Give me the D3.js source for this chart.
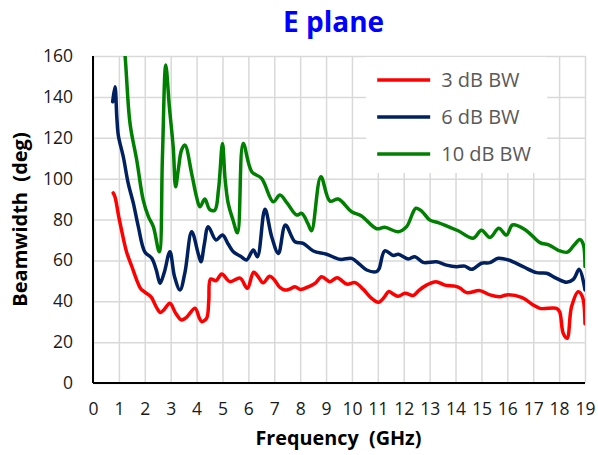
<!DOCTYPE html>
<html>
<head>
<meta charset="utf-8">
<script src="https://cdn.jsdelivr.net/npm/d3@7"></script>
<style>
  body { margin: 0; background: #fff; }
  svg { display: block; }
  text { font-family: "Open Sans", sans-serif; }
</style>
</head>
<body>
<script>
// data
const freq3 = [0.78, 0.85, 1.0, 1.15, 1.3, 1.5, 1.7, 1.85, 2.0, 2.25, 2.45, 2.6, 2.75, 2.97, 3.2, 3.42, 3.6, 3.94, 4.1, 4.2, 4.39, 4.47, 4.54, 4.75, 4.97, 5.29, 5.68, 5.96, 6.2, 6.35, 6.57, 6.82, 7.0, 7.2, 7.41, 7.6, 7.8, 8.0, 8.38, 8.6, 8.83, 9.15, 9.43, 9.8, 10.12, 10.44, 10.76, 11.02, 11.25, 11.42, 11.6, 11.79, 12.05, 12.37, 12.6, 12.88, 13.24, 13.59, 13.98, 14.17, 14.43, 14.94, 15.33, 15.71, 15.97, 16.55, 17.0, 17.26, 17.9, 18.02, 18.16, 18.31, 18.48, 18.74, 18.9, 19.0];
const bw3 = [93, 91, 81, 72, 64, 57, 50, 46, 44.5, 42, 37, 34.5, 36, 39, 34, 30.8, 32, 36.6, 32, 30, 31.8, 40, 50.9, 50, 53.3, 49.6, 51.3, 46.3, 54.2, 52.5, 49, 52.2, 50.5, 47, 45.5, 46, 47.1, 45.8, 47.4, 49, 52, 49.6, 51.5, 48.4, 49.1, 45.8, 41.4, 39.5, 42, 44.8, 43.5, 42.4, 43.9, 42.8, 45.5, 47.9, 49.6, 47.9, 47.4, 46.5, 44.2, 45.2, 43.1, 42.2, 43.1, 41.9, 38.2, 36.5, 36.5, 34.9, 24.3, 21.9, 37.3, 44.7, 42.2, 29];

const freq6 = [0.76, 0.85, 0.92, 0.98, 1.17, 1.36, 1.56, 1.75, 2.0, 2.27, 2.45, 2.59, 2.75, 2.97, 3.15, 3.36, 3.55, 3.81, 4.07, 4.17, 4.3, 4.45, 4.75, 5.0, 5.22, 5.42, 5.7, 5.93, 6.19, 6.35, 6.64, 6.9, 7.16, 7.43, 7.8, 8.12, 8.51, 9.02, 9.54, 9.99, 10.3, 10.57, 10.95, 11.05, 11.27, 11.6, 11.79, 12.17, 12.43, 12.75, 13.27, 13.65, 14.04, 14.36, 14.62, 15.0, 15.33, 15.65, 16.04, 16.61, 17.13, 17.52, 17.9, 18.29, 18.55, 18.78, 19.0];
const bw6 = [137.6, 145, 130, 121, 110.7, 97.7, 87.9, 76.5, 64.2, 61, 55, 48.8, 54, 64.2, 52, 45.5, 54, 74, 63, 59.3, 68, 76.5, 70, 72.4, 68, 64.2, 62, 60.2, 65.1, 61.8, 85, 71.6, 63.4, 77.3, 69.1, 68.3, 64.6, 63, 60.5, 61, 58, 55.3, 54.5, 56, 64.7, 62.4, 63, 60.7, 61.8, 59, 59.3, 57.7, 56.9, 57.2, 55.6, 58.6, 58.9, 61, 60.2, 56.9, 54, 53.7, 51.2, 49.3, 50.7, 55.6, 45.5];

const freq10 = [1.1, 1.24, 1.43, 1.69, 1.94, 2.14, 2.33, 2.56, 2.68, 2.81, 2.95, 3.1, 3.19, 3.3, 3.42, 3.55, 3.81, 4.0, 4.13, 4.32, 4.5, 4.7, 4.85, 5.0, 5.1, 5.22, 5.4, 5.58, 5.8, 6.13, 6.51, 6.96, 7.22, 7.5, 7.86, 8.06, 8.3, 8.44, 8.8, 9.15, 9.47, 9.99, 10.37, 10.95, 11.27, 11.79, 12.11, 12.47, 12.7, 13.01, 13.33, 13.72, 14.1, 14.68, 15.0, 15.33, 15.67, 15.97, 16.2, 16.7, 17.26, 17.62, 17.97, 18.32, 18.58, 18.8, 18.93, 19.0];
const bw10 = [178, 160, 127, 109, 89.5, 81.4, 76.5, 64.2, 110, 155.6, 135, 115, 96, 105, 114, 116.4, 102.5, 91, 86.2, 90, 85, 84.5, 95, 117.2, 100, 88, 80, 73.5, 117.2, 103.4, 100.1, 88.7, 92, 88, 82.2, 83, 78, 74.5, 100.9, 89, 90, 83.8, 81.7, 75.5, 76.2, 74, 76.5, 85.5, 84, 79.7, 78.5, 76.5, 74.5, 70.8, 74.7, 71.2, 75.7, 72.4, 77.3, 74.9, 68.7, 67.5, 64.9, 64, 67.5, 70.2, 68, 57];

const seriesNames = ["3 dB BW", "6 dB BW", "10 dB BW"];
const seriesColors = ["#ff0000", "#002060", "#008000"];
const xTicks = d3.range(0, 20);
const yTicks = d3.range(0, 161, 20);

const width = 598, height = 455;
const margin = {top: 56, right: 13, bottom: 72, left: 93};
const w = width - margin.left - margin.right;
const h = height - margin.top - margin.bottom;

const svg = d3.select("body").append("svg")
    .attr("width", width)
    .attr("height", height);

const g = svg.append("g")
    .attr("transform", `translate(${margin.left},${margin.top})`);

const x = d3.scaleLinear().domain([0, 19]).range([0, w]);
const y = d3.scaleLinear().domain([0, 160]).range([h, 0]);

// grid
g.append("g")
    .attr("class", "grid")
    .attr("transform", `translate(0,${h})`)
    .call(d3.axisBottom(x).tickValues(xTicks).tickSize(-h).tickFormat(""))
    .call(s => s.select(".domain").remove());
g.append("g")
    .attr("class", "grid")
    .call(d3.axisLeft(y).tickValues(yTicks).tickSize(-w).tickFormat(""))
    .call(s => s.select(".domain").remove());
g.selectAll(".grid line").attr("stroke", "#d9d9d9").attr("stroke-width", 1.5);

// tick labels
g.append("g")
    .attr("transform", `translate(0,${h})`)
    .call(d3.axisBottom(x).tickValues(xTicks).tickSize(0).tickPadding(20))
    .call(s => s.select(".domain").remove())
    .selectAll("text")
    .attr("font-size", 17.5)
    .attr("font-family", "Open Sans")
    .attr("fill", "#1a1a1a");
g.append("g")
    .call(d3.axisLeft(y).tickValues(yTicks).tickSize(0).tickPadding(20))
    .call(s => s.select(".domain").remove())
    .selectAll("text")
    .attr("font-size", 17.5)
    .attr("font-family", "Open Sans")
    .attr("fill", "#1a1a1a");

// axis lines
g.append("line").attr("x1", 0).attr("x2", 0).attr("y1", 0).attr("y2", h)
    .attr("stroke", "#000").attr("stroke-width", 2);
g.append("line").attr("x1", 0).attr("x2", w).attr("y1", h).attr("y2", h)
    .attr("stroke", "#000").attr("stroke-width", 2);

// legend box (drawn over grid)
const legend = g.append("g").attr("transform", `translate(${x(10.55)},0)`);
legend.append("rect")
    .attr("x", 0).attr("y", 1)
    .attr("width", 181).attr("height", 116)
    .attr("fill", "#fff");

// lines
svg.append("clipPath").attr("id", "plotclip")
    .append("rect").attr("width", w).attr("height", h);

const line = d3.line()
    .x(d => x(d[0]))
    .y(d => y(d[1]))
    .curve(d3.curveCatmullRom.alpha(0.5));

const allSeries = [
    d3.zip(freq3, bw3),
    d3.zip(freq6, bw6),
    d3.zip(freq10, bw10)
];

g.append("g").attr("clip-path", "url(#plotclip)")
    .selectAll("path")
    .data(allSeries)
    .join("path")
    .attr("d", line)
    .attr("fill", "none")
    .attr("stroke", (d, i) => seriesColors[i])
    .attr("stroke-width", 3.5)
    .attr("stroke-linejoin", "round")
    .attr("stroke-linecap", "round");

// legend entries
seriesNames.forEach((name, i) => {
    const ly = 24 + i * 37;
    legend.append("line")
        .attr("x1", 11).attr("x2", 64)
        .attr("y1", ly).attr("y2", ly)
        .attr("stroke", seriesColors[i])
        .attr("stroke-width", 3.5);
    legend.append("text")
        .attr("x", 75).attr("y", ly)
        .attr("dy", "0.36em")
        .attr("font-size", 20)
        .attr("fill", "#595959")
        .text(name);
});

// titles
svg.append("text")
    .attr("x", 283).attr("y", 32)
    .attr("font-family", "DejaVu Sans")
    .attr("font-weight", "bold")
    .attr("font-size", 28)
    .attr("fill", "#0000ff")
    .text("E plane");

svg.append("text")
    .attr("x", 338.5).attr("y", 445)
    .attr("text-anchor", "middle")
    .attr("font-weight", "bold")
    .attr("font-size", 19.8)
    .attr("fill", "#000")
    .style("white-space", "pre")
    .text("Frequency  (GHz)");

svg.append("text")
    .attr("transform", `translate(27,${margin.top + h / 2}) rotate(-90)`)
    .attr("text-anchor", "middle")
    .attr("font-weight", "bold")
    .attr("font-size", 20)
    .attr("fill", "#000")
    .style("white-space", "pre")
    .text("Beamwidth  (deg)");
</script>
</body>
</html>
